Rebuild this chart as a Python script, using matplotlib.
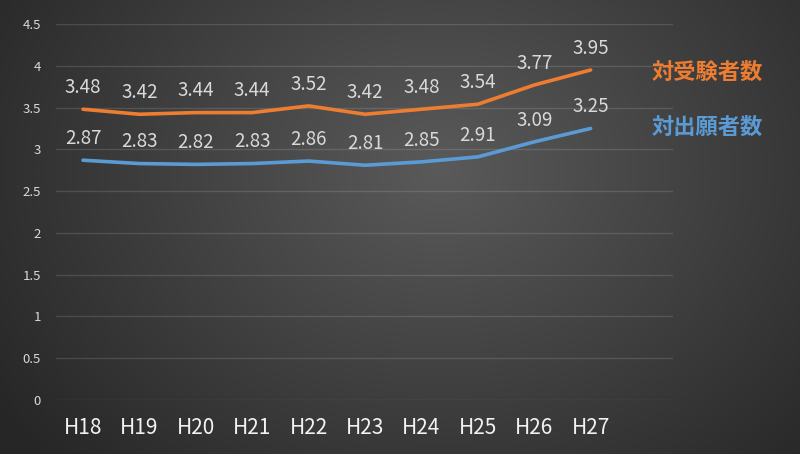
import numpy as np
import matplotlib.pyplot as plt

plt.rcParams['font.family'] = ['Noto Sans CJK JP', 'DejaVu Sans']

years = ['H18', 'H19', 'H20', 'H21', 'H22', 'H23', 'H24', 'H25', 'H26', 'H27']
juken = [3.48, 3.42, 3.44, 3.44, 3.52, 3.42, 3.48, 3.54, 3.77, 3.95]
shutsugan = [2.87, 2.83, 2.82, 2.83, 2.86, 2.81, 2.85, 2.91, 3.09, 3.25]
yticks = [0, 0.5, 1, 1.5, 2, 2.5, 3, 3.5, 4, 4.5]
ytick_labels = ['0', '0.5', '1', '1.5', '2', '2.5', '3', '3.5', '4', '4.5']

def main():
	fig = plt.figure(figsize=(8, 4.54), dpi=100)

	# radial gradient background
	bg = fig.add_axes([0, 0, 1, 1], zorder=-10)
	yy, xx = np.mgrid[0:454, 0:800]
	r = np.sqrt(((xx - 440) / 540.0) ** 2 + ((yy - 170) / 430.0) ** 2)
	r = np.clip(r, 0, 1)
	inner = np.array([0x5a, 0x5a, 0x5a]) / 255.0
	outer = np.array([0x26, 0x26, 0x26]) / 255.0
	img = inner[None, None, :] * (1 - r[..., None]) + outer[None, None, :] * r[..., None]
	bg.imshow(img, aspect='auto', extent=[0, 1, 0, 1], origin='upper')
	bg.axis('off')

	ax = fig.add_axes([0.07, 0.1189, 0.77125, 0.8282])
	ax.patch.set_alpha(0)
	x = np.arange(len(years))

	ax.plot(x, juken, color='#ED7D31', lw=2.6, solid_capstyle='round', zorder=3)
	ax.plot(x, shutsugan, color='#5B9BD5', lw=2.6, solid_capstyle='round', zorder=3)

	for xi, v in zip(x, juken):
		ax.annotate('%.2f' % v, (xi, v), xytext=(0, 8), textcoords='offset points',
			ha='center', va='bottom', color='#d9d9d9', fontsize=13.5)
	for xi, v in zip(x, shutsugan):
		ax.annotate('%.2f' % v, (xi, v), xytext=(0, 8), textcoords='offset points',
			ha='center', va='bottom', color='#d9d9d9', fontsize=13.5)

	ax.set_xlim(-0.479, 10.46)
	ax.set_ylim(0, 4.5)
	ax.set_yticks(yticks)
	ax.set_yticklabels(ytick_labels)
	ax.set_xticks(x)
	ax.set_xticklabels(years)
	ax.tick_params(axis='y', length=0, pad=11, labelsize=9.5, labelcolor='#d9d9d9')
	ax.tick_params(axis='x', length=0, pad=12, labelsize=15, labelcolor='#f2f2f2')
	ax.grid(axis='y', color='#ffffff', alpha=0.13, lw=1)
	ax.set_axisbelow(True)
	for s in ax.spines.values():
		s.set_visible(False)

	fig.text(652 / 800, 1 - 72 / 454, '対受験者数', color='#ED7D31', fontsize=16,
		fontweight='bold', va='center', ha='left')
	fig.text(652 / 800, 1 - 127 / 454, '対出願者数', color='#5B9BD5', fontsize=16,
		fontweight='bold', va='center', ha='left')

	fig.savefig('out.png', dpi=100)

main()
